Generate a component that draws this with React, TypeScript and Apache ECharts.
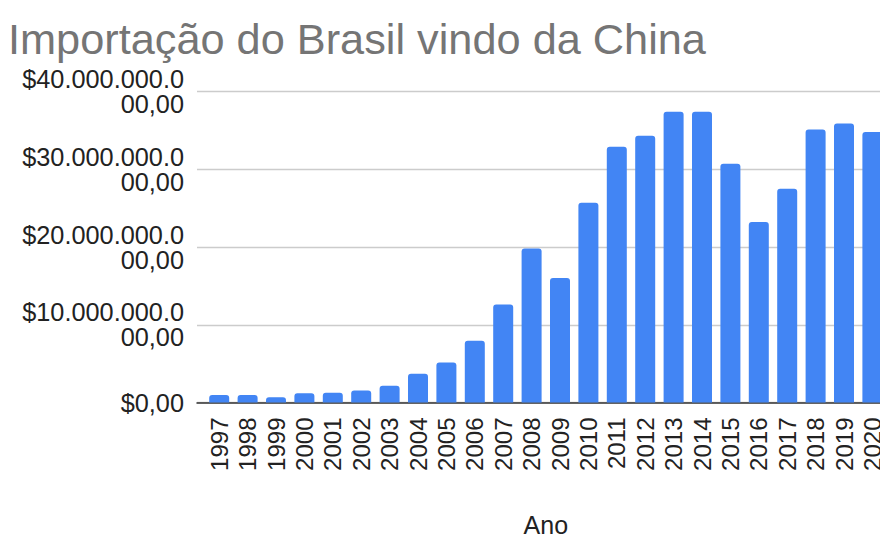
import React, { useEffect, useRef } from "react";
import * as echarts from "echarts";

const chartTitle = "Importação do Brasil vindo da China";
const xAxisName = "Ano";
const years = [
  "1997", "1998", "1999", "2000", "2001", "2002", "2003", "2004",
  "2005", "2006", "2007", "2008", "2009", "2010", "2011", "2012",
  "2013", "2014", "2015", "2016", "2017", "2018", "2019", "2020",
];
const imports = [
  950000000, 950000000, 670000000, 1200000000, 1250000000, 1550000000,
  2150000000, 3700000000, 5150000000, 7950000000, 12600000000, 19800000000,
  16000000000, 25700000000, 32900000000, 34300000000, 37400000000, 37400000000,
  30700000000, 23200000000, 27500000000, 35100000000, 35900000000, 34800000000,
];
const yTicks = [0, 10000000000, 20000000000, 30000000000, 40000000000];
const yTickLabels = [
  "$0,00",
  "$10.000.000.0\n00,00",
  "$20.000.000.0\n00,00",
  "$30.000.000.0\n00,00",
  "$40.000.000.0\n00,00",
];

export default function App() {
  const ref = useRef<HTMLDivElement>(null);
  useEffect(() => {
    const chart = echarts.init(ref.current!, undefined, { renderer: "svg" });
    const font = "'Liberation Sans', Arial, sans-serif";
    chart.setOption({
      animation: false,
      backgroundColor: "#ffffff",
      textStyle: { fontFamily: font },
      title: {
        text: chartTitle,
        left: 8,
        top: 17,
        padding: 0,
        textStyle: { fontSize: 43.3, fontWeight: "normal", color: "#757575", fontFamily: font },
      },
      grid: [
        { left: 205, width: 681.6, top: 91.5, bottom: 131.5, outerBoundsMode: "none", containLabel: false },
        { left: 197, right: 0, top: 91.5, bottom: 131.5, outerBoundsMode: "none", containLabel: false },
      ],
      xAxis: [
        {
          type: "category",
          gridIndex: 0,
          data: years,
          axisLine: { show: false },
          axisTick: { show: false },
          axisLabel: {
            interval: 0,
            rotate: 90,
            fontSize: 24,
            color: "#222",
            margin: 15,
            fontFamily: font,
          },
          name: xAxisName,
          nameLocation: "middle",
          nameGap: 109.5,
          nameTextStyle: { fontSize: 25, color: "#222", fontFamily: font },
        },
        {
          type: "value",
          gridIndex: 1,
          min: 0,
          max: 1,
          axisLine: { show: true, onZero: false, lineStyle: { color: "#333", width: 1.5 } },
          axisTick: { show: false },
          axisLabel: { show: false },
          splitLine: { show: false },
        },
      ],
      yAxis: [
        {
          type: "value",
          gridIndex: 0,
          min: 0,
          max: 40000000000,
          interval: 10000000000,
          show: false,
          splitLine: { show: false },
        },
        {
          type: "value",
          gridIndex: 1,
          min: 0,
          max: 40000000000,
          interval: 10000000000,
          axisLine: { show: false },
          axisTick: { show: false },
          splitLine: { lineStyle: { color: "#cccccc", width: 1.3 } },
          axisLabel: {
            formatter: (v: number) => {
              const i = yTicks.indexOf(v);
              return i >= 0 ? yTickLabels[i] : "";
            },
            fontSize: 25.3,
            lineHeight: 25,
            color: "#222",
            margin: 13,
            align: "right",
            fontFamily: font,
          },
        },
      ],
      series: [
        {
          type: "bar",
          xAxisIndex: 0,
          yAxisIndex: 0,
          data: imports,
          barWidth: 20,
          itemStyle: { color: "#4285F4", borderRadius: [3, 3, 0, 0] },
          z: 3,
        },
      ],
    });
    return () => chart.dispose();
  }, []);
  return (
    <div
      ref={ref}
      style={{ position: "fixed", left: 0, top: 0, width: 880, height: 534 }}
    />
  );
}
